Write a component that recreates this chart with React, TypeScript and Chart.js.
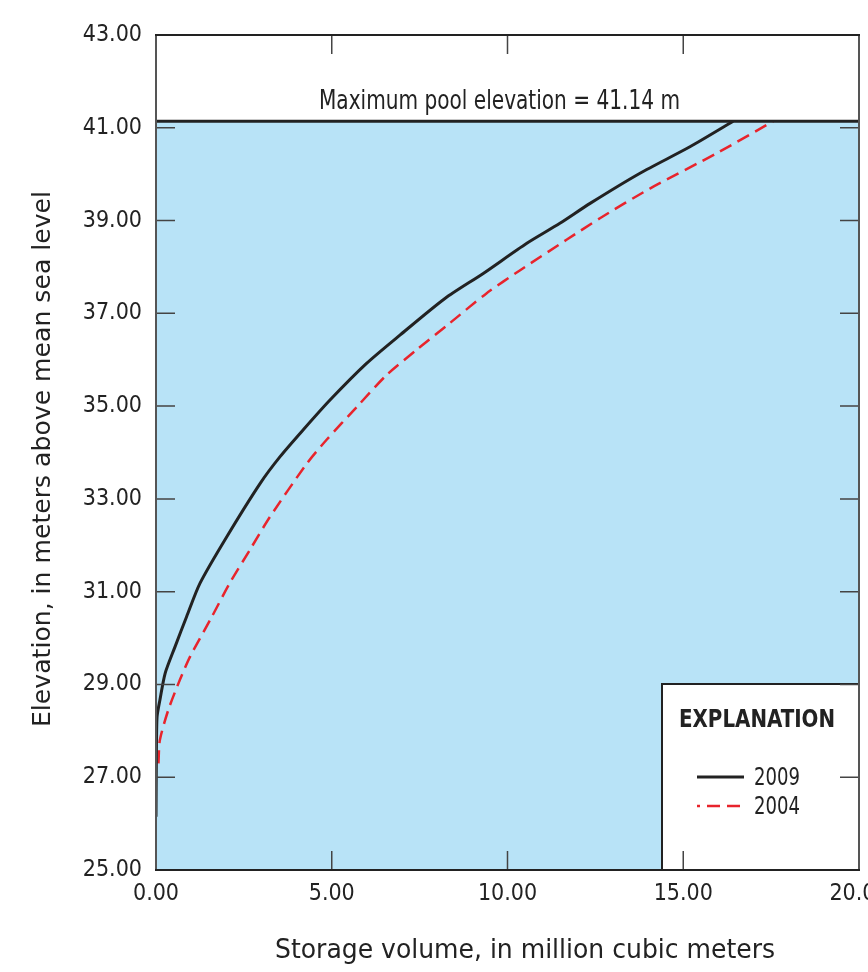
import React, { useEffect, useRef } from "react";
import { Chart, registerables } from "chart.js";

Chart.register(...registerables);

// ---- data ----
const vol2009 = [0, 0.01, 0.03, 0.11, 0.26, 0.54, 0.87, 1.25, 2.01, 2.96, 3.53, 4.19, 4.95, 5.99, 6.94, 8.22, 9.31, 10.55, 11.49, 12.35, 13.77, 15.19, 16.42];
const elev2009 = [26.15, 27.4, 28.3, 28.66, 29.24, 29.81, 30.46, 31.18, 32.18, 33.33, 33.91, 34.49, 35.13, 35.92, 36.53, 37.32, 37.86, 38.51, 38.94, 39.37, 40.02, 40.59, 41.14];
const vol2004 = [0.07, 0.11, 0.35, 0.68, 0.97, 1.54, 2.11, 2.67, 3.24, 4.29, 4.86, 5.71, 6.56, 7.41, 8.36, 9.4, 10.36, 11.69, 12.63, 14.05, 15.95, 17.56];
const elev2004 = [27.3, 27.8, 28.45, 29.1, 29.6, 30.39, 31.2, 31.9, 32.61, 33.76, 34.28, 34.98, 35.67, 36.21, 36.79, 37.43, 37.93, 38.59, 39.05, 39.69, 40.45, 41.14];
const seriesNames = ["2009", "2004"];
const maxPool = 41.14;
const poolLabel = "Maximum pool elevation = 41.14 m";
const xTitle = "Storage volume, in million cubic meters";
const yTitle = "Elevation, in meters above mean sea level";
const legendTitle = "EXPLANATION";
const xMin = 0, xMax = 20, xStep = 5;
const yMin = 25, yMax = 43, yStep = 2;

const FONT = '"Liberation Sans Narrow", "Arial Narrow", "DejaVu Sans Condensed", sans-serif';
const BLUE = "rgb(184,227,247)";
const BLACK = "#222";
const RED = "#e8242c";

function fitText(ctx: CanvasRenderingContext2D, text: string, x: number, y: number, width: number, font: string, align: CanvasTextAlign, rot = 0) {
  ctx.save();
  ctx.font = font;
  const w = ctx.measureText(text).width;
  const s = width / w;
  ctx.translate(x, y);
  if (rot) ctx.rotate(rot);
  ctx.scale(s, 1);
  ctx.textAlign = align;
  ctx.textBaseline = "alphabetic";
  ctx.fillStyle = BLACK;
  ctx.fillText(text, 0, 0);
  ctx.restore();
}

const decorPlugin = {
  id: "decor",
  beforeDatasetsDraw(chart: any) {
    const { ctx, chartArea, scales } = chart;
    const yp = scales.y.getPixelForValue(maxPool);
    ctx.save();
    ctx.fillStyle = BLUE;
    ctx.fillRect(chartArea.left, yp, chartArea.right - chartArea.left, chartArea.bottom - yp);
    ctx.restore();
  },
  afterDatasetsDraw(chart: any) {
    const { ctx, chartArea, scales } = chart;
    const { left, right, top, bottom } = chartArea;
    const xs = scales.x, ys = scales.y;
    const yp = ys.getPixelForValue(maxPool);
    ctx.save();
    // pool line
    ctx.strokeStyle = BLACK;
    ctx.lineWidth = 3;
    ctx.beginPath();
    ctx.moveTo(left, yp);
    ctx.lineTo(right, yp);
    ctx.stroke();
    // pool label
    fitText(ctx, poolLabel, (319 + 680) / 2, yp - 12, 361, `26px ${FONT}`, "center");

    // legend box
    const lx = right - 197, ly = bottom - 186;
    ctx.fillStyle = "#fff";
    ctx.fillRect(lx, ly, right - lx, bottom - ly);
    ctx.strokeStyle = BLACK;
    ctx.lineWidth = 2;
    ctx.beginPath();
    ctx.moveTo(lx, bottom);
    ctx.lineTo(lx, ly);
    ctx.lineTo(right, ly);
    ctx.stroke();
    fitText(ctx, legendTitle, lx + 17, ly + 43, 156, `bold 25px ${FONT}`, "left");
    const ds = chart.data.datasets;
    const rows = [ly + 93, ly + 122];
    ds.forEach((d: any, i: number) => {
      ctx.save();
      ctx.strokeStyle = d.borderColor;
      ctx.lineWidth = d.borderWidth;
      ctx.setLineDash(d.borderDash || []);
      ctx.lineDashOffset = d.borderDash ? 10 : 0;
      ctx.beginPath();
      ctx.moveTo(lx + 35, rows[i]);
      ctx.lineTo(lx + 82, rows[i]);
      ctx.stroke();
      ctx.restore();
      fitText(ctx, d.label, lx + 92, rows[i] + 8, 46, `25px ${FONT}`, "left");
    });

    // tick marks (inward, all four sides)
    ctx.strokeStyle = "#444";
    ctx.lineWidth = 1.5;
    const TL = 19;
    xs.ticks.forEach((t: any) => {
      if (t.value <= xMin || t.value >= xMax) return;
      const px = xs.getPixelForValue(t.value);
      ctx.beginPath();
      ctx.moveTo(px, bottom);
      ctx.lineTo(px, bottom - TL);
      ctx.moveTo(px, top);
      ctx.lineTo(px, top + TL);
      ctx.stroke();
    });
    ys.ticks.forEach((t: any) => {
      if (t.value <= yMin || t.value >= yMax) return;
      const py = ys.getPixelForValue(t.value);
      ctx.beginPath();
      ctx.moveTo(left, py);
      ctx.lineTo(left + TL, py);
      ctx.moveTo(right, py);
      ctx.lineTo(right - TL, py);
      ctx.stroke();
    });

    // frame
    ctx.lineWidth = 2;
    ctx.strokeStyle = "#555";
    ctx.beginPath();
    ctx.moveTo(left, top);
    ctx.lineTo(left, bottom);
    ctx.moveTo(right, top);
    ctx.lineTo(right, bottom);
    ctx.stroke();
    ctx.strokeStyle = BLACK;
    ctx.beginPath();
    ctx.moveTo(left - 1, top);
    ctx.lineTo(right + 1, top);
    ctx.moveTo(left - 1, bottom);
    ctx.lineTo(right + 1, bottom);
    ctx.stroke();

    // axis titles
    fitText(ctx, xTitle, 525, 958, 500, `26px ${FONT}`, "center");
    fitText(ctx, yTitle, 50, 459, 536, `25px ${FONT}`, "center", -Math.PI / 2);
    ctx.restore();
  },
};

export default function App() {
  const ref = useRef<HTMLCanvasElement>(null);
  useEffect(() => {
    if (!ref.current) return;
    const chart = new Chart(ref.current, {
      type: "scatter",
      data: {
        datasets: [
          {
            label: seriesNames[0],
            data: vol2009.map((v, i) => ({ x: v, y: elev2009[i] })),
            showLine: true,
            borderColor: BLACK,
            borderWidth: 3,
            pointRadius: 0,
            tension: 0.25,
          },
          {
            label: seriesNames[1],
            data: vol2004.map((v, i) => ({ x: v, y: elev2004[i] })),
            showLine: true,
            borderColor: RED,
            borderWidth: 2.5,
            borderDash: [13, 7],
            pointRadius: 0,
            tension: 0.25,
          },
        ],
      },
      options: {
        animation: false,
        responsive: false,
        devicePixelRatio: 1,
        layout: { padding: { top: 35, right: 9, left: 0, bottom: 0 } },
        plugins: { legend: { display: false }, tooltip: { enabled: false } },
        scales: {
          x: {
            type: "linear",
            min: xMin,
            max: xMax,
            grid: { display: false, drawTicks: false },
            border: { display: false },
            ticks: {
              stepSize: xStep,
              autoSkip: false,
              maxRotation: 0,
              padding: 10,
              color: BLACK,
              font: { family: FONT, size: 23 },
              callback: (v: any) => Number(v).toFixed(2),
            },
            afterFit: (s: any) => {
              s.height = 102;
              s.paddingLeft = 0;
              s.paddingRight = 0;
            },
          },
          y: {
            type: "linear",
            min: yMin,
            max: yMax,
            grid: { display: false, drawTicks: false },
            border: { display: false },
            ticks: {
              stepSize: yStep,
              autoSkip: false,
              padding: 14,
              color: BLACK,
              font: { family: FONT, size: 23 },
              callback: (v: any) => Number(v).toFixed(2),
            },
            afterFit: (s: any) => {
              s.width = 156;
              s.paddingTop = 0;
              s.paddingBottom = 0;
            },
          },
        },
      } as any,
      plugins: [decorPlugin],
    });
    return () => chart.destroy();
  }, []);
  return (
    <div style={{ position: "fixed", left: 0, top: 0, width: 868, height: 972, background: "#fff" }}>
      <canvas ref={ref} width={868} height={972} style={{ display: "block" }} />
    </div>
  );
}
